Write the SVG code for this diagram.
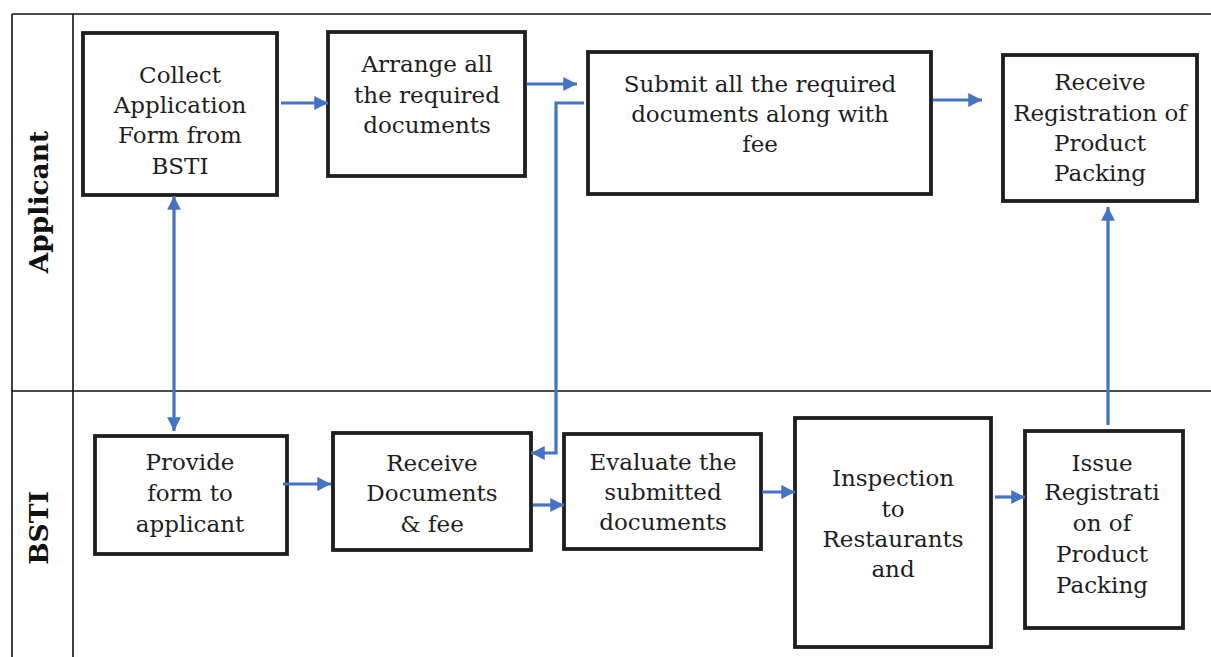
<svg xmlns="http://www.w3.org/2000/svg" width="1211" height="657" viewBox="0 0 1211 657">
<style>
.lane{stroke:#111;stroke-width:1.6;fill:none}
.box{fill:#fff;stroke:#1e1e1e;stroke-width:3.8}
.t{font-family:"DejaVu Serif","Liberation Serif",serif;font-size:23px;fill:#1e1e1e;text-anchor:middle}
.lbl{font-family:"DejaVu Serif","Liberation Serif",serif;font-size:26.5px;font-weight:bold;fill:#111;text-anchor:middle}
.c{stroke:#4472C4;stroke-width:3.2;fill:none}
</style>
<defs>
<marker id="ah" viewBox="0 0 10 10" refX="10" refY="5" markerWidth="4.6" markerHeight="4.3" orient="auto-start-reverse" markerUnits="strokeWidth">
<path d="M0,0 L10,5 L0,10 z" fill="#4472C4"/>
</marker>
</defs>
<g id="lanes">
<path class="lane" d="M12,14 H1211 M12,14 V657 M73,14 V657 M12,391 H1211"/>
<text class="lbl" transform="translate(48,202) rotate(-90)">Applicant</text>
<text class="lbl" transform="translate(48,528) rotate(-90)">BSTI</text>
</g>
<g id="n1"><rect class="box" x="83" y="33" width="194" height="162"/>
<text class="t"><tspan x="180" y="83">Collect</tspan><tspan x="180" y="113">Application</tspan><tspan x="180" y="143">Form from</tspan><tspan x="180" y="174">BSTI</tspan></text></g>
<g id="n2"><rect class="box" x="328" y="32" width="197" height="144"/>
<text class="t"><tspan x="427" y="72">Arrange all</tspan><tspan x="427" y="103">the required</tspan><tspan x="427" y="133">documents</tspan></text></g>
<g id="n3"><rect class="box" x="588" y="52" width="343" height="142"/>
<text class="t"><tspan x="760" y="92">Submit all the required</tspan><tspan x="760" y="122">documents along with</tspan><tspan x="760" y="152">fee</tspan></text></g>
<g id="n4"><rect class="box" x="1003" y="55" width="194" height="146"/>
<text class="t"><tspan x="1100" y="90">Receive</tspan><tspan x="1100" y="121">Registration of</tspan><tspan x="1100" y="151">Product</tspan><tspan x="1100" y="181">Packing</tspan></text></g>
<g id="n5"><rect class="box" x="95" y="436" width="192" height="118"/>
<text class="t"><tspan x="190" y="470">Provide</tspan><tspan x="190" y="501">form to</tspan><tspan x="190" y="532">applicant</tspan></text></g>
<g id="n6"><rect class="box" x="333" y="433" width="198" height="117"/>
<text class="t"><tspan x="432" y="471">Receive</tspan><tspan x="432" y="501">Documents</tspan><tspan x="432" y="532">&amp; fee</tspan></text></g>
<g id="n7"><rect class="box" x="564" y="434" width="197" height="115"/>
<text class="t"><tspan x="663" y="470">Evaluate the</tspan><tspan x="663" y="500">submitted</tspan><tspan x="663" y="530">documents</tspan></text></g>
<g id="n8"><rect class="box" x="795" y="418" width="196" height="229"/>
<text class="t"><tspan x="893" y="486">Inspection</tspan><tspan x="893" y="517">to</tspan><tspan x="893" y="547">Restaurants</tspan><tspan x="893" y="577">and</tspan></text></g>
<g id="n9"><rect class="box" x="1025" y="431" width="158" height="197"/>
<text class="t"><tspan x="1102" y="471">Issue</tspan><tspan x="1102" y="500">Registrati</tspan><tspan x="1102" y="531">on of</tspan><tspan x="1102" y="562">Product</tspan><tspan x="1102" y="593">Packing</tspan></text></g>
<g id="connectors">
<path class="c" marker-end="url(#ah)" d="M281,103 H328"/>
<path class="c" marker-end="url(#ah)" d="M527,84 H577"/>
<path class="c" marker-end="url(#ah)" d="M584,103 H556 V453 H531"/>
<path class="c" marker-end="url(#ah)" d="M933,100 H982"/>
<path class="c" marker-start="url(#ah)" marker-end="url(#ah)" d="M174,196 V431"/>
<path class="c" marker-end="url(#ah)" d="M283,484 H331"/>
<path class="c" marker-end="url(#ah)" d="M533,505 H564"/>
<path class="c" marker-end="url(#ah)" d="M762,492 H795"/>
<path class="c" marker-end="url(#ah)" d="M995,497 H1025"/>
<path class="c" marker-end="url(#ah)" d="M1108,425 V207"/>
</g>
</svg>
